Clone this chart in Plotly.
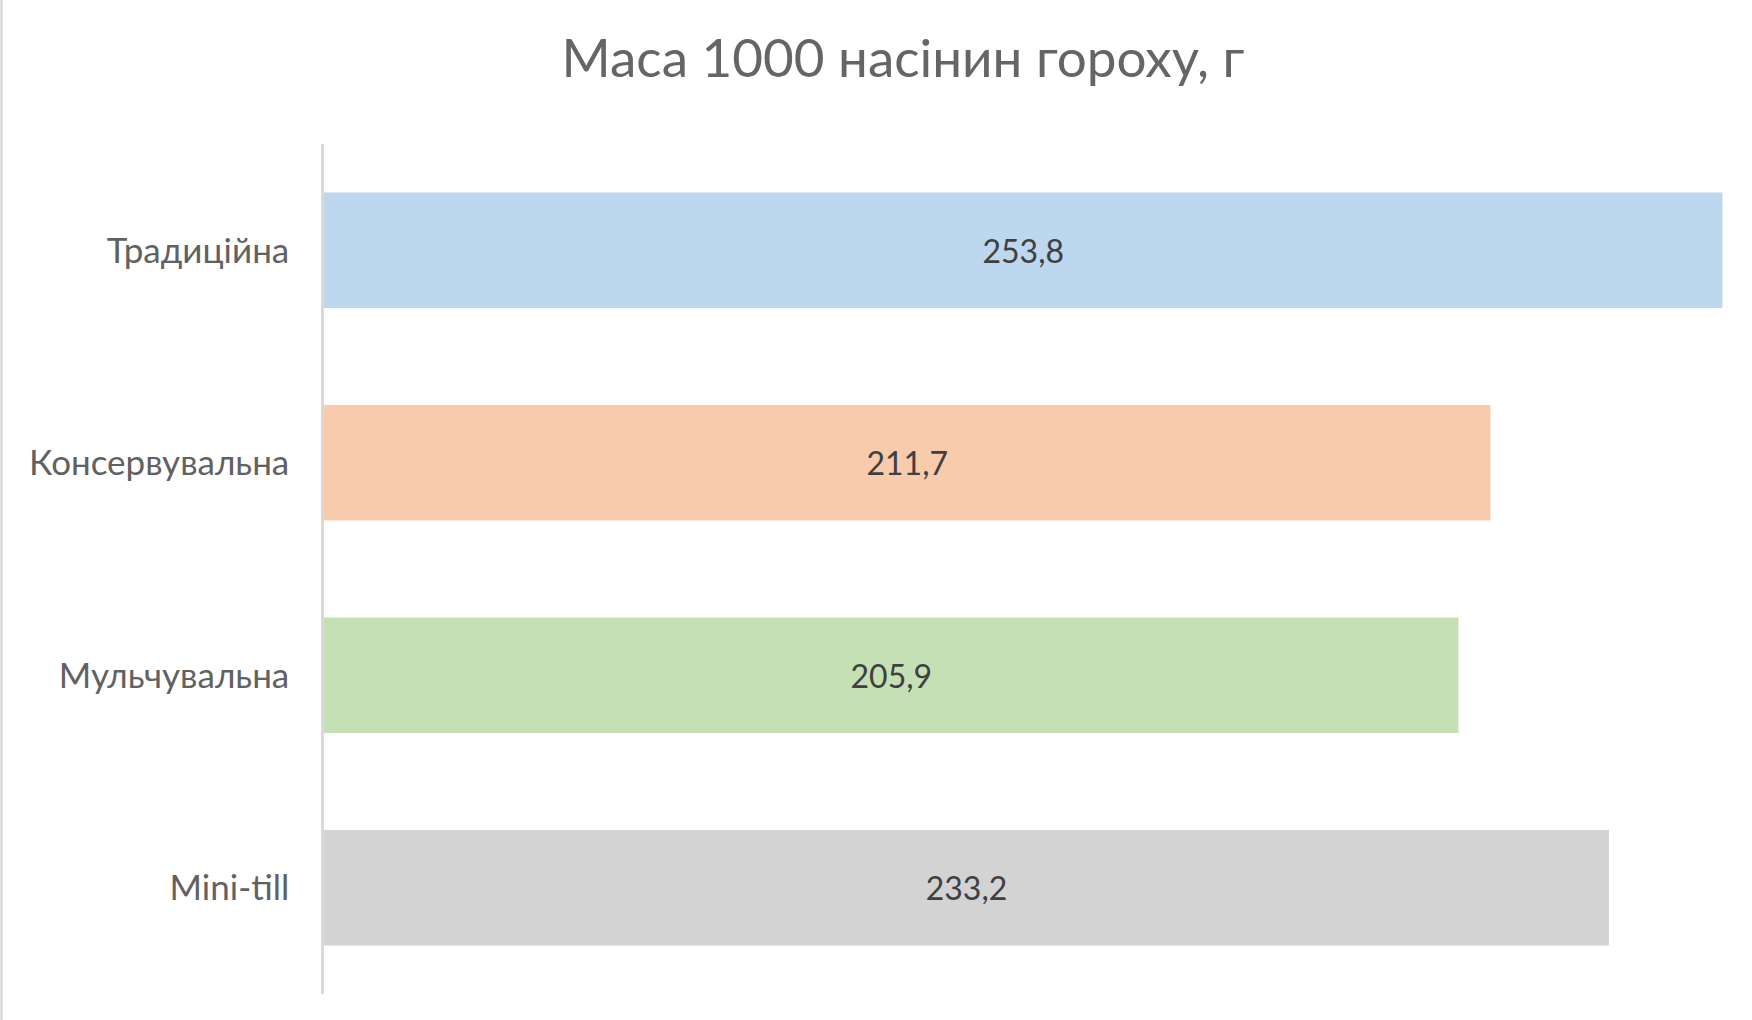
import plotly.graph_objects as go

# Mass of 1000 pea seeds by tillage system, g
categories = ["Традиційна", "Консервувальна", "Мульчувальна", "Mini-till"]
values = [253.8, 211.7, 205.9, 233.2]
colors = ["#BDD7EE", "#F8CBAD", "#C5E0B4", "#D3D3D3"]
title_text = "Маса 1000 насінин гороху, г"

labels = [f"{v:.1f}".replace(".", ",") for v in values]

FONT = "Lato"
W, H = 1752, 1020
left, top, bottom = 324, 144, 26
px_per_unit = 5.51
x_max = (W - left) / px_per_unit

fig = go.Figure(
    go.Bar(
        x=values,
        y=categories,
        orientation="h",
        marker=dict(color=colors, line=dict(width=0)),
        width=0.544,
        text=labels,
        textposition="inside",
        insidetextanchor="middle",
        textangle=0,
        constraintext="none",
        textfont=dict(family=FONT, size=32, color="#404040"),
        hoverinfo="skip",
    )
)

fig.update_layout(
    width=W,
    height=H,
    margin=dict(l=left, r=0, t=top, b=bottom),
    paper_bgcolor="white",
    plot_bgcolor="white",
    showlegend=False,
    title=dict(
        text=title_text,
        x=903 / W,
        xanchor="center",
        y=1 - 58 / H,
        yanchor="middle",
        font=dict(family=FONT, size=53, color="#656565"),
    ),
    xaxis=dict(
        range=[0, x_max],
        showgrid=False,
        showticklabels=False,
        zeroline=False,
        showline=False,
        fixedrange=True,
    ),
    yaxis=dict(
        categoryorder="array",
        categoryarray=categories,
        autorange="reversed",
        showgrid=False,
        zeroline=False,
        showline=True,
        linecolor="#D9D9D9",
        linewidth=2.5,
        ticks="",
        ticklabelstandoff=25,
        tickfont=dict(family=FONT, size=35, color="#616161"),
    ),
    shapes=[
        dict(
            type="line",
            xref="paper",
            yref="paper",
            x0=-left / (W - left) + 1.5 / (W - left),
            x1=-left / (W - left) + 1.5 / (W - left),
            y0=-bottom / (H - top - bottom),
            y1=1 + top / (H - top - bottom),
            line=dict(color="#D9D9D9", width=2.5),
        )
    ],
)

fig.write_html("out.html")
